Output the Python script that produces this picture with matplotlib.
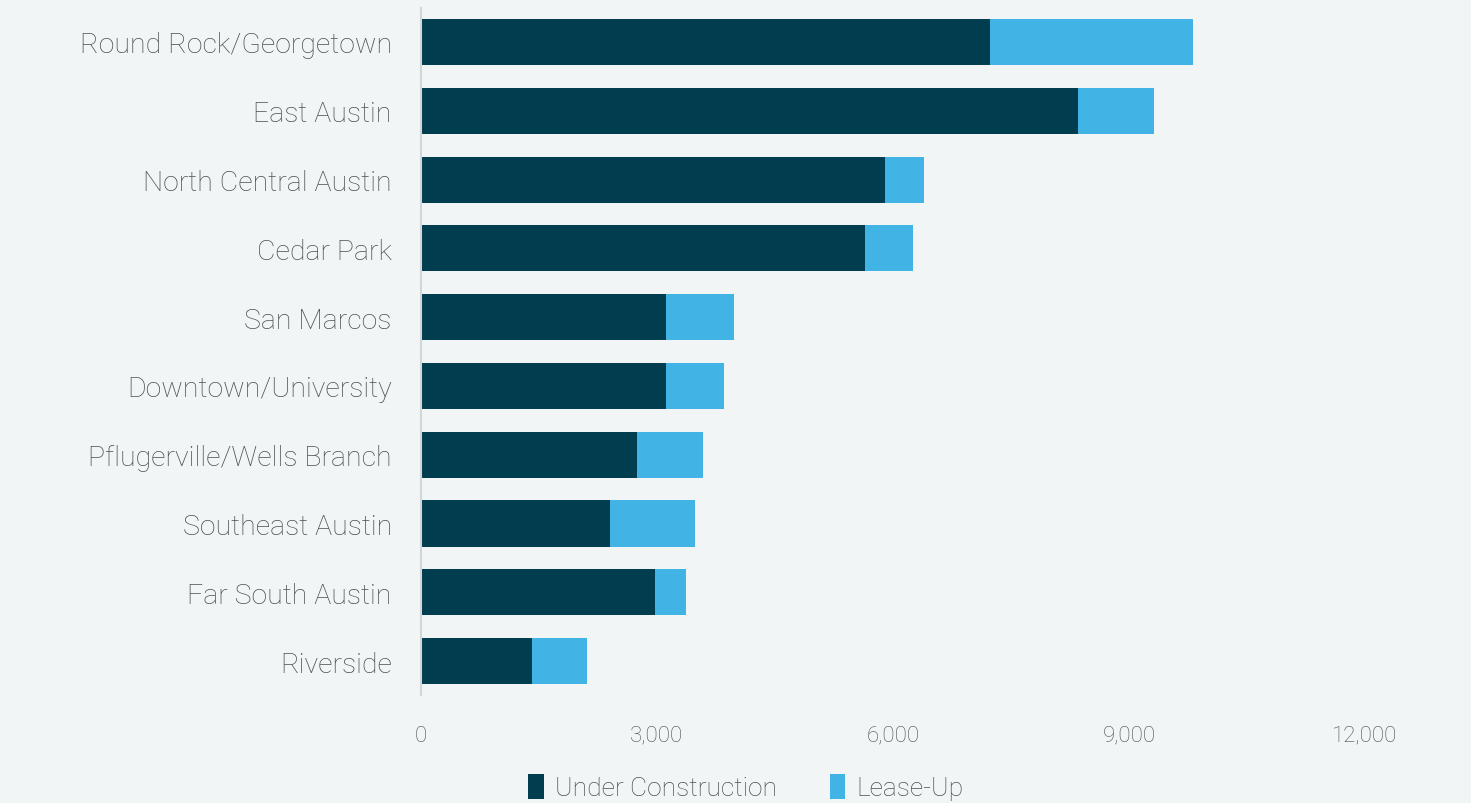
import matplotlib.pyplot as plt
from matplotlib.ticker import FuncFormatter

# submarket data (units)
markets = ["Round Rock/Georgetown", "East Austin", "North Central Austin", "Cedar Park",
           "San Marcos", "Downtown/University", "Pflugerville/Wells Branch",
           "Southeast Austin", "Far South Austin", "Riverside"]
under_construction = [7230, 8350, 5900, 5640, 3110, 3110, 2740, 2400, 2970, 1410]
lease_up = [2580, 970, 490, 620, 870, 740, 840, 1080, 400, 700]

dark = "#003d4f"
light = "#41b4e5"
bg = "#f1f5f6"
txt = "#4f4f4f"

plt.rcParams['font.family'] = ['Roboto', 'DejaVu Sans']
plt.rcParams['font.weight'] = 'light'

fig = plt.figure(figsize=(14.71, 8.04), dpi=100, facecolor=bg)
ax = fig.add_axes([0.2862, 0.1338, 0.6417, 0.8555], facecolor=bg)

y = list(range(len(markets)))
ax.barh(y, under_construction, height=0.67, color=dark, label="Under Construction")
ax.barh(y, lease_up, left=under_construction, height=0.67, color=light, label="Lease-Up")

ax.set_ylim(len(markets) - 0.5, -0.5)
ax.set_xlim(0, 12000)
ax.set_xticks([0, 3000, 6000, 9000, 12000])
ax.xaxis.set_major_formatter(FuncFormatter(lambda v, p: f"{int(v):,}"))
ax.set_yticks(y)
ax.set_yticklabels(markets)

for s in ["top", "right", "bottom"]:
    ax.spines[s].set_visible(False)
ax.spines["left"].set_color("#d3d6d8")
ax.spines["left"].set_linewidth(1.5)
ax.tick_params(axis="both", length=0, colors=txt)
ax.tick_params(axis="y", labelsize=20.5, pad=21)
ax.tick_params(axis="x", labelsize=16, pad=21)

leg = fig.legend(loc="lower center", bbox_to_anchor=(0.507, -0.026), ncol=2, frameon=False,
                 fontsize=19, handlelength=0.6, handleheight=1.1, handletextpad=0.4,
                 columnspacing=2.0)
for t in leg.get_texts():
    t.set_color(txt)

fig.savefig("out.png", dpi=100, facecolor=bg)
